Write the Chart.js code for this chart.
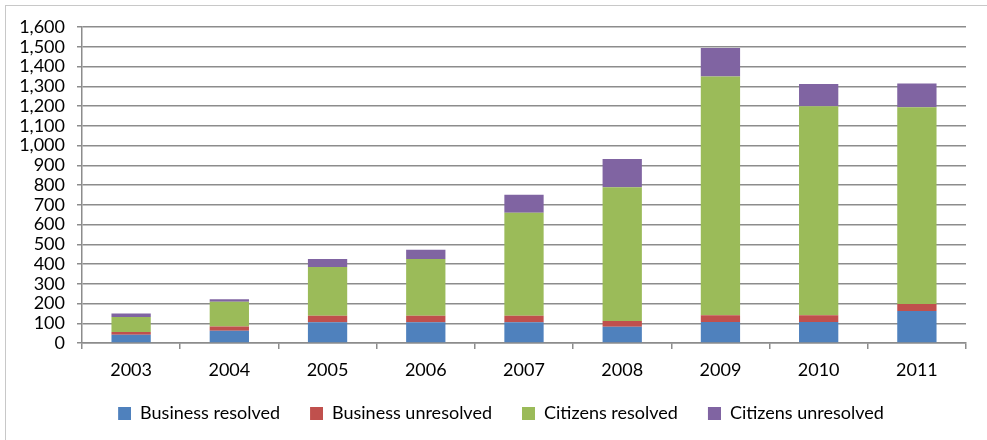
<!DOCTYPE html>
<html>
<head>
<meta charset="utf-8">
<script src="https://cdn.jsdelivr.net/npm/chart.js@4/dist/chart.umd.min.js"></script>
<style>
  body { margin: 0; background: #fff; overflow: hidden; }
  #frame { position: absolute; left: 5px; top: 5px; width: 1000px; height: 500px; border: 1px solid #c8c8c8; }
  #wrap { position: absolute; left: 0; top: 0; width: 996px; height: 440px; }
</style>
</head>
<body>
<div id="frame"></div>
<div id="wrap"><canvas id="myChart" width="996" height="440"></canvas></div>
<script>
  const years = ['2003', '2004', '2005', '2006', '2007', '2008', '2009', '2010', '2011'];
  const businessResolved = [42, 62, 105, 105, 105, 82, 106, 106, 162];
  const businessUnresolved = [14, 22, 33, 33, 33, 30, 34, 34, 36];
  const citizensResolved = [76, 125, 247, 287, 522, 676, 1209, 1059, 996];
  const citizensUnresolved = [17, 13, 40, 47, 91, 144, 145, 113, 120];

  const gridColor = '#8c8c8c';
  Chart.defaults.font.family = 'Lato, "Open Sans", sans-serif';
  Chart.defaults.font.size = 18;
  Chart.defaults.color = '#000';

  // legend swatch: square on the right, empty space on the left
  function makeBox(color) {
    const c = document.createElement('canvas');
    c.width = 19;
    c.height = 13;
    const g = c.getContext('2d');
    g.fillStyle = color;
    g.fillRect(6, 0, 13, 13);
    return c;
  }

  const ctx = document.getElementById('myChart');

  new Chart(ctx, {
    type: 'bar',
    data: {
      labels: years,
      datasets: [
        { label: 'Business resolved', data: businessResolved, backgroundColor: '#4F81BD' },
        { label: 'Business unresolved', data: businessUnresolved, backgroundColor: '#C0504D' },
        { label: 'Citizens resolved', data: citizensResolved, backgroundColor: '#9BBB59' },
        { label: 'Citizens unresolved', data: citizensUnresolved, backgroundColor: '#8064A2' }
      ]
    },
    options: {
      responsive: false,
      animation: false,
      layout: { padding: { left: 0, top: 27, right: 0, bottom: 8 } },
      datasets: { bar: { barPercentage: 0.4, categoryPercentage: 1 } },
      plugins: {
        tooltip: { enabled: false },
        legend: {
          position: 'bottom',
          labels: {
            usePointStyle: true,
            pointStyleWidth: 19,
            boxHeight: 13,
            padding: 24,
            font: { size: 18 },
            generateLabels: function (chart) {
              const items = Chart.defaults.plugins.legend.labels.generateLabels(chart);
              items.forEach(function (it) {
                it.pointStyle = makeBox(chart.data.datasets[it.datasetIndex].backgroundColor);
              });
              return items;
            }
          }
        }
      },
      scales: {
        x: {
          stacked: true,
          grid: { offset: true, drawOnChartArea: false, tickLength: 6, color: gridColor, lineWidth: 1.5 },
          border: { color: gridColor, width: 1.5 },
          ticks: { padding: 10 },
          afterFit: function (scale) { scale.height = 37; }
        },
        y: {
          stacked: true,
          min: 0,
          max: 1600,
          ticks: {
            stepSize: 100,
            autoSkip: false,
            padding: 12,
            callback: function (v) { return v.toLocaleString('en-US'); }
          },
          grid: { tickLength: 5, color: gridColor, lineWidth: 1.5 },
          border: { color: gridColor, width: 1.5 },
          afterFit: function (scale) { scale.width = 82; }
        },
        spacer: {
          type: 'linear',
          position: 'right',
          grid: { display: false },
          border: { display: false },
          ticks: { display: false },
          afterFit: function (scale) { scale.width = 30; }
        }
      }
    }
  });
</script>
</body>
</html>
